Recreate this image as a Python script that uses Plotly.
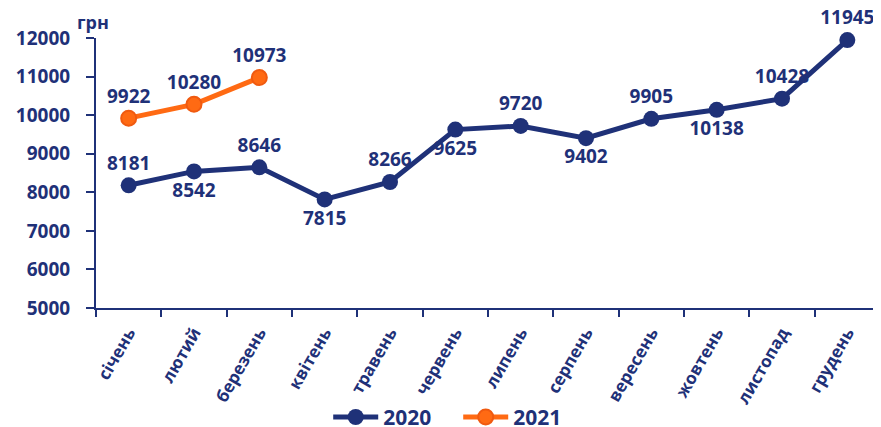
import plotly.graph_objects as go

NAVY = "#1f3178"
ORANGE = "#ff6a13"

months = ["січень", "лютий", "березень", "квітень", "травень", "червень",
          "липень", "серпень", "вересень", "жовтень", "листопад", "грудень"]
values_2020 = [8181, 8542, 8646, 7815, 8266, 9625, 9720, 9402, 9905, 10138, 10428, 11945]
values_2021 = [9922, 10280, 10973]

pos_2020 = ["top center", "bottom center", "top center", "bottom center", "top center",
            "bottom center", "top center", "bottom center", "top center", "bottom center",
            "top center", "top center"]

FONT = "Open Sans"
label_font = dict(family=FONT, size=19, color=NAVY, weight="bold")

fig = go.Figure()
fig.add_trace(go.Scatter(
    x=months, y=values_2020, name="2020", mode="lines+markers+text",
    line=dict(color=NAVY, width=5),
    marker=dict(color=NAVY, size=16),
    text=[str(v) for v in values_2020], textposition=pos_2020,
    textfont=label_font, cliponaxis=False,
))
fig.add_trace(go.Scatter(
    x=months[:len(values_2021)], y=values_2021, name="2021", mode="lines+markers+text",
    line=dict(color=ORANGE, width=5),
    marker=dict(color=ORANGE, size=15, line=dict(color="#f05a10", width=2)),
    text=[str(v) for v in values_2021], textposition="top center",
    textfont=label_font, cliponaxis=False,
))

# page body has an 8px margin, so the figure is sized/offset to compensate
fig.update_layout(
    width=873, height=419,
    margin=dict(l=88, r=1, t=30, b=119, autoexpand=False),
    paper_bgcolor="white", plot_bgcolor="white",
    font=dict(family=FONT, color=NAVY),
    showlegend=True,
    legend=dict(orientation="h", x=0.462, xanchor="center", y=-0.405, yanchor="middle",
                font=dict(family=FONT, size=21, color=NAVY, weight="bold"),
                entrywidth=70, itemwidth=45, tracegroupgap=0),
    xaxis=dict(
        type="category", showgrid=False, zeroline=False, automargin=False,
        showline=True, linecolor=NAVY, linewidth=2,
        ticks="outside", tickson="boundaries", ticklen=7, tickcolor=NAVY, tickwidth=2,
        tickangle=-60, ticklabelstandoff=6,
        tickfont=dict(family=FONT, size=17, color=NAVY, weight="bold"),
        range=[-0.5, 11.5],
    ),
    yaxis=dict(
        range=[5000, 12000], dtick=1000, tickformat="d", showgrid=False, zeroline=False,
        automargin=False,
        showline=True, linecolor=NAVY, linewidth=2,
        ticks="outside", ticklen=8, tickcolor=NAVY, tickwidth=2, ticklabelstandoff=12,
        tickfont=dict(family=FONT, size=19, color=NAVY, weight="bold"),
    ),
)

fig.add_annotation(
    text="грн", xref="paper", yref="paper", x=-0.004, y=1.06,
    xanchor="center", yanchor="middle", showarrow=False,
    font=dict(family=FONT, size=18, color=NAVY, weight="bold"),
)

fig.write_html("out.html")
